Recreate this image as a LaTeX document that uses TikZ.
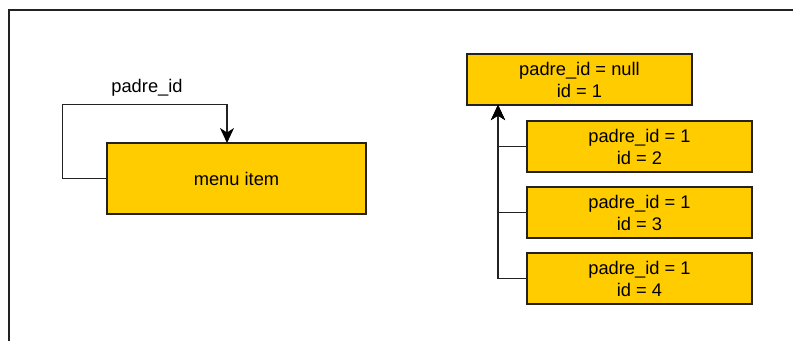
\documentclass[tikz,border=0pt]{standalone}
\usepackage{fontspec}
\setmainfont{Liberation Sans}
\usetikzlibrary{arrows.meta}
\definecolor{boxfill}{HTML}{FFCC00}
\definecolor{boxline}{HTML}{222222}
\definecolor{wire}{HTML}{222222}
\tikzset{
  rec/.style={draw=boxline, fill=boxfill, line width=1.1pt, minimum width=225pt, minimum height=51pt, inner sep=0pt, align=center, font=\fontsize{18.3}{22}\selectfont},
  wirearrow/.style={draw=wire, line width=1.2pt, -{Stealth[length=15pt,width=14pt,inset=4.5pt,color=black]}},
  lbl/.style={font=\fontsize{18.3}{22}\selectfont},
}
\begin{document}
\begin{tikzpicture}[x=1pt,y=-1pt]
\useasboundingbox (0,0) rectangle (793,341);
\draw[draw=wire, line width=1.1pt] (9,341) -- (9,10) -- (793,10);
% left: self reference
\node[rec, minimum width=259pt, minimum height=71pt] (menu) at (236.5,178.5) {menu item};
\coordinate (mt) at (227,143);
\draw[wirearrow] (menu.west) -- ++(-44,0) -- ++(0,-74) -| (mt);
\node[lbl] (plabel) at (147,88) {padre\_id};
% right: tree
\node[rec] (top) at (579.5,79.5) {padre\_id = null\\id = 1};
\node[rec] (c2) at (639.5,146.5) {padre\_id = 1\\id = 2};
\node[rec] (c3) at (639.5,212.5) {padre\_id = 1\\id = 3};
\node[rec] (c4) at (639.5,278.5) {padre\_id = 1\\id = 4};
\coordinate (tb) at (498,105);
\draw[wirearrow] (c2.west) -| (tb);
\draw[wirearrow] (c3.west) -| (tb);
\draw[wirearrow] (c4.west) -| (tb);
\end{tikzpicture}
\end{document}
